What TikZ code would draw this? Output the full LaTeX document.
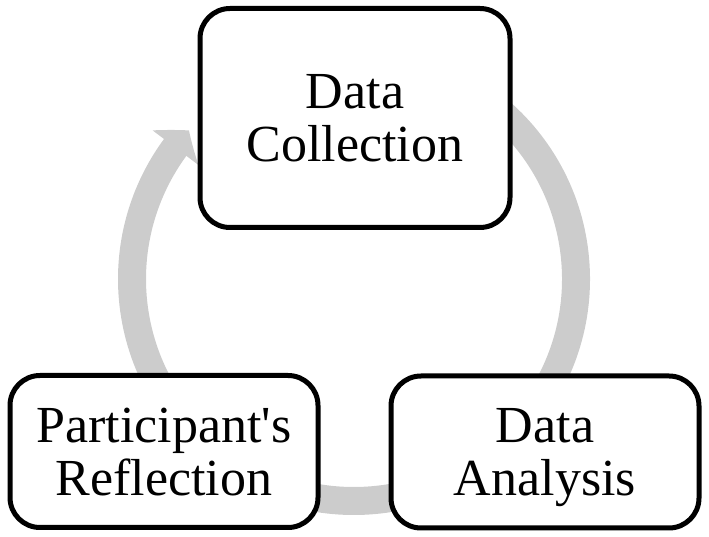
\documentclass[tikz,border=0pt]{standalone}
\usepackage{fontspec}
\setmainfont{Liberation Serif}
\usetikzlibrary{arrows.meta,bending}

\tikzset{
  stage/.style={draw=black,line width=0.125cm,rounded corners=0.75cm,fill=white,align=center,inner sep=0pt,text depth=0pt},
}

\begin{document}
\begin{tikzpicture}[font=\fontsize{37}{37.7}\selectfont]
\useasboundingbox (0,0) rectangle (17.725,13.425);
\coordinate (hub) at (8.85,6.45);
% grey ring of the cycle, behind the boxes
\draw[black!20,line width=0.7cm,-{Triangle[width=1.4cm,length=0.55cm,bend]}] ([shift={(95:5.55)}]hub) arc[start angle=95,end angle=-222,radius=5.55];
\node[stage,minimum width=7.75cm,minimum height=5.475cm] (collect) at (8.875,10.475) {Data\\Collection};
\node[stage,minimum width=7.7cm,minimum height=3.8cm] (analyse) at (13.625,2.125) {Data\\Analysis};
\node[stage,minimum width=7.7cm,minimum height=3.8cm] (reflect) at (4.1,2.1375) {Participant\textquotesingle s\\Reflection};
\end{tikzpicture}
\end{document}
